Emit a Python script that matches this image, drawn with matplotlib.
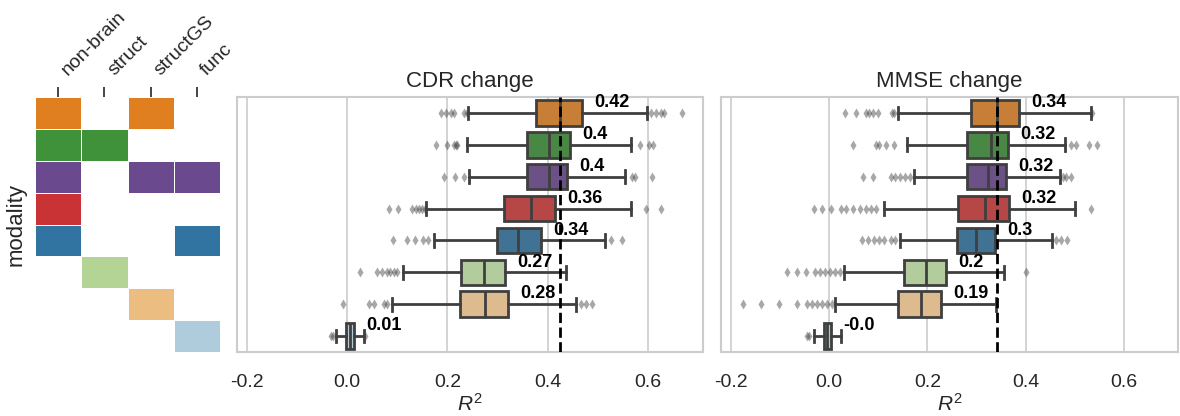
import colorsys
import numpy as np
import matplotlib
matplotlib.use("Agg")
import matplotlib.pyplot as plt
import matplotlib.transforms as mtransforms
from matplotlib.colors import ListedColormap, to_rgb

# ------------------------------------------------------------------ #

plt.rcParams['font.family'] = ['Liberation Sans', 'DejaVu Sans']
plt.rcParams['mathtext.fontset'] = 'custom'
plt.rcParams['mathtext.it'] = 'Liberation Sans:italic'
plt.rcParams['mathtext.rm'] = 'Liberation Sans'

modalities = ['non-brain', 'struct', 'structGS', 'func']
membership = [[1, 0, 1, 0],
              [1, 1, 0, 0],
              [1, 0, 1, 1],
              [1, 0, 0, 0],
              [1, 0, 0, 1],
              [0, 1, 0, 0],
              [0, 0, 1, 0],
              [0, 0, 0, 1]]
# Paired palette entries, one per model row
row_colors = ['#ff7f00', '#33a02c', '#6a3d9a', '#e31a1c', '#1f78b4', '#b2df8a', '#fdbf6f', '#a6cee3']

# CDR change, R^2 box stats per row
cdr_whislo = [0.241, 0.239, 0.243, 0.158, 0.174, 0.111, 0.089, -0.022]
cdr_q1 = [0.377, 0.359, 0.359, 0.313, 0.299, 0.228, 0.226, -0.002]
cdr_med = [0.425, 0.403, 0.403, 0.366, 0.341, 0.273, 0.276, 0.006]
cdr_q3 = [0.468, 0.445, 0.439, 0.415, 0.387, 0.314, 0.321, 0.014]
cdr_whishi = [0.599, 0.566, 0.555, 0.566, 0.514, 0.436, 0.456, 0.033]
cdr_fliers = [[0.187, 0.197, 0.207, 0.213, 0.233, 0.239, 0.607, 0.616, 0.626, 0.633, 0.669],
              [0.178, 0.199, 0.213, 0.217, 0.220, 0.585, 0.603, 0.610],
              [0.194, 0.216, 0.234, 0.569, 0.574, 0.608],
              [0.083, 0.101, 0.129, 0.137, 0.143, 0.150, 0.155, 0.596, 0.627],
              [0.091, 0.119, 0.136, 0.151, 0.161, 0.526, 0.549],
              [0.026, 0.059, 0.069, 0.079, 0.086, 0.093, 0.099],
              [-0.009, 0.043, 0.054, 0.074, 0.079, 0.466, 0.476, 0.489],
              [-0.033, -0.029, 0.035]]
cdr_labels = ['0.42', '0.4', '0.4', '0.36', '0.34', '0.27', '0.28', '0.01']

# MMSE change, R^2 box stats per row
mmse_whislo = [0.141, 0.159, 0.172, 0.112, 0.144, 0.030, 0.012, -0.031]
mmse_q1 = [0.289, 0.281, 0.281, 0.262, 0.260, 0.153, 0.140, -0.011]
mmse_med = [0.342, 0.329, 0.324, 0.317, 0.299, 0.197, 0.187, -0.004]
mmse_q3 = [0.387, 0.365, 0.359, 0.367, 0.337, 0.237, 0.227, 0.004]
mmse_whishi = [0.532, 0.481, 0.470, 0.501, 0.454, 0.355, 0.339, 0.025]
mmse_fliers = [[0.033, 0.054, 0.075, 0.082, 0.089, 0.099, 0.127, 0.132, 0.535],
               [0.049, 0.095, 0.102, 0.115, 0.132, 0.492, 0.502, 0.529, 0.545],
               [0.069, 0.090, 0.125, 0.135, 0.145, 0.155, 0.165, 0.475, 0.482, 0.492],
               [-0.031, -0.015, 0.004, 0.025, 0.035, 0.049, 0.062, 0.075, 0.085, 0.095, 0.532],
               [0.067, 0.079, 0.092, 0.102, 0.112, 0.125, 0.135, 0.461, 0.472, 0.485],
               [-0.086, -0.065, -0.048, -0.028, -0.018, -0.008, 0.002, 0.012, 0.022, 0.401],
               [-0.175, -0.139, -0.101, -0.065, -0.045, -0.035, -0.025, -0.015, -0.005, 0.005],
               [-0.045, -0.041]]
mmse_labels = ['0.34', '0.32', '0.32', '0.32', '0.3', '0.2', '0.19', '-0.0']

xticks = [-0.2, 0.0, 0.2, 0.4, 0.6]

# ------------------------------------------------------------------ #


def desat(c, prop=0.75):
    h, l, s = colorsys.rgb_to_hls(*to_rgb(c))
    return colorsys.hls_to_rgb(h, l, s * prop)


heat_colors = [desat(c) for c in row_colors]
box_colors = [desat(c) for c in heat_colors]
LINE = '#3f3f3f'
GRID = '#cccccc'
TXT = '#262626'

fig = plt.figure(figsize=(11.8, 4.16), dpi=100)

# ---- modality heatmap ----
ax_h = fig.add_axes([0.0297, 0.1538, 0.1568, 0.613])
mem = np.array(membership)
codes = mem * (np.arange(len(row_colors))[:, None] + 1)
cmap = ListedColormap(['white'] + heat_colors)
ax_h.pcolormesh(codes, cmap=cmap, vmin=-0.5, vmax=len(row_colors) + 0.5,
                edgecolors='white', linewidth=0.6)
ax_h.set_xlim(0, 4)
ax_h.set_ylim(8, 0)
ax_h.xaxis.tick_top()
ax_h.set_xticks(np.arange(4) + 0.5)
ax_h.set_xticklabels(modalities, rotation=45, ha='left', va='baseline',
                     rotation_mode='anchor', fontsize=14, color=TXT)
ax_h.tick_params(axis='x', length=7, width=1.2, color=TXT, pad=8)
# nudge the rotated labels to the right of their ticks
shift = mtransforms.ScaledTranslation(0.1, 0, fig.dpi_scale_trans)
for lab in ax_h.get_xticklabels():
    lab.set_transform(lab.get_transform() + shift)
ax_h.set_yticks([])
ax_h.set_ylabel('modality', fontsize=16, color=TXT, labelpad=6)
for s in ax_h.spines.values():
    s.set_visible(False)


# ---- box panels ----
def box_panel(rect, title, whislo, q1, med, q3, whishi, fliers, labels):
    ax = fig.add_axes(rect)
    stats = [dict(whislo=whislo[i], q1=q1[i], med=med[i], q3=q3[i], whishi=whishi[i],
                  fliers=fliers[i]) for i in range(len(med))]
    bp = ax.bxp(stats, positions=range(len(med)), widths=0.8, orientation='horizontal',
                patch_artist=True, capwidths=0.4,
                boxprops=dict(edgecolor=LINE, linewidth=2),
                medianprops=dict(color=LINE, linewidth=2),
                whiskerprops=dict(color=LINE, linewidth=2),
                capprops=dict(color=LINE, linewidth=2),
                flierprops=dict(marker='d', markersize=5, markerfacecolor=LINE,
                                markeredgecolor='none', alpha=0.45))
    for patch, col in zip(bp['boxes'], box_colors):
        patch.set_facecolor(col)
    ax.axvline(med[0], color='black', linestyle='--', linewidth=2, zorder=5)
    for i, lab in enumerate(labels):
        ax.text(q3[i] + 0.025, i - 0.18, lab, fontsize=13, fontweight='bold',
                ha='left', va='baseline', color='black', zorder=6)
    ax.set_xlim(-0.22, 0.71)
    ax.set_ylim(7.5, -0.5)
    ax.set_xticks(xticks)
    ax.set_xticklabels([f'{t:.1f}' for t in xticks])
    ax.set_yticks([])
    ax.grid(axis='x', color=GRID, linewidth=1.2)
    ax.set_axisbelow(True)
    ax.tick_params(axis='x', length=0, pad=16, labelsize=14, labelcolor=TXT)
    for s in ax.spines.values():
        s.set_color(GRID)
        s.set_linewidth(1.5)
    ax.set_xlabel(r'$R^2$', fontsize=15, color=TXT, labelpad=1)
    ax.set_title(title, fontsize=16, color=TXT, pad=7)
    return ax


box_panel([0.2008, 0.1538, 0.3949, 0.613], 'CDR change', cdr_whislo, cdr_q1, cdr_med,
          cdr_q3, cdr_whishi, cdr_fliers, cdr_labels)
box_panel([0.611, 0.1538, 0.3873, 0.613], 'MMSE change', mmse_whislo, mmse_q1, mmse_med,
          mmse_q3, mmse_whishi, mmse_fliers, mmse_labels)

plt.savefig('out.png', dpi=100)
